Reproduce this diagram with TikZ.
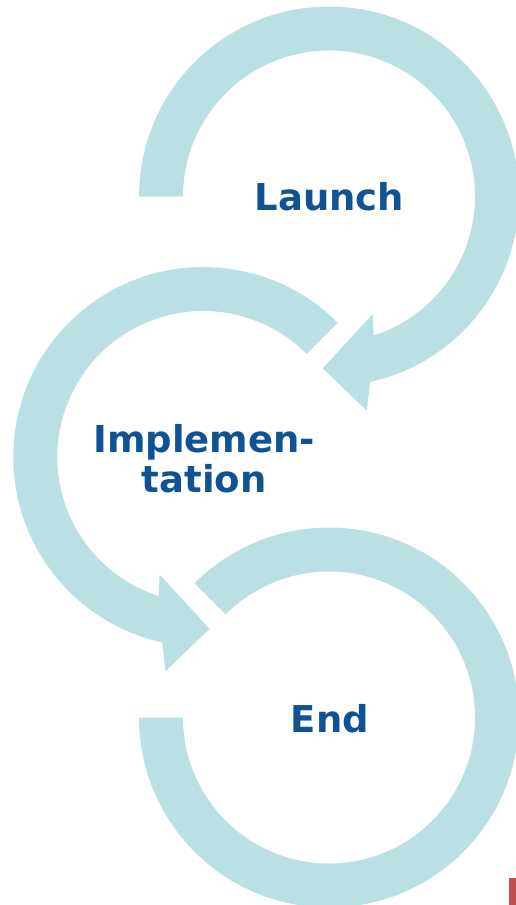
\documentclass[tikz,border=0pt]{standalone}
\usepackage{fontspec}
\setmainfont{DejaVu Sans}
\usetikzlibrary{calc}
\definecolor{bandfill}{HTML}{BBE0E3}
\definecolor{lbltext}{HTML}{0F5394}
\definecolor{redbar}{HTML}{C0504D}
\tikzset{
  band/.style={fill=bandfill, draw=none},
  lbl/.style={text=lbltext, inner sep=0pt, align=center,
    font=\fontsize{37}{39.6}\selectfont\bfseries},
}
\begin{document}
\begin{tikzpicture}[x=1pt,y=1pt]
\useasboundingbox (0,0) rectangle (516,-905);
% arrow 1 (Launch)
\begin{scope}[shift={(329,-196.5)}]
\path[band] (180:190pt) arc[start angle=180, end angle=-77.5, radius=190pt]
  -- (-80:217.5pt) -- (-92.1:171.9pt) -- (-69.6:125.4pt) -- (-72.2:146pt)
  arc[start angle=-72.2, end angle=180, radius=146pt] -- cycle;
\end{scope}
% arrow 2 (Implementation), mirror of arrow 1
\begin{scope}[shift={(203.3,-457)}, xscale=-1]
\path[band] (135:190pt) arc[start angle=135, end angle=-77.5, radius=190pt]
  -- (-80:217.5pt) -- (-92.1:171.9pt) -- (-69.6:125.4pt) -- (-72.2:146pt)
  arc[start angle=-72.2, end angle=135, radius=146pt] -- cycle;
\end{scope}
% arc 3 (End)
\begin{scope}[shift={(329,-717.5)}]
\path[band] (135:190pt) arc[start angle=135, end angle=-180, radius=190pt]
  -- (-180:146pt) arc[start angle=-180, end angle=135, radius=146pt] -- cycle;
\end{scope}
\node[lbl, anchor=base] (launch) at (329.4,-210.7) {Launch};
\node[lbl] (impl) at (204.3,-458.5) {Implemen-\\tation};
\node[lbl, anchor=base] (end) at (330,-732.7) {End};
\fill[redbar] (509.3,-878.3) rectangle (516,-905);
\end{tikzpicture}
\end{document}
